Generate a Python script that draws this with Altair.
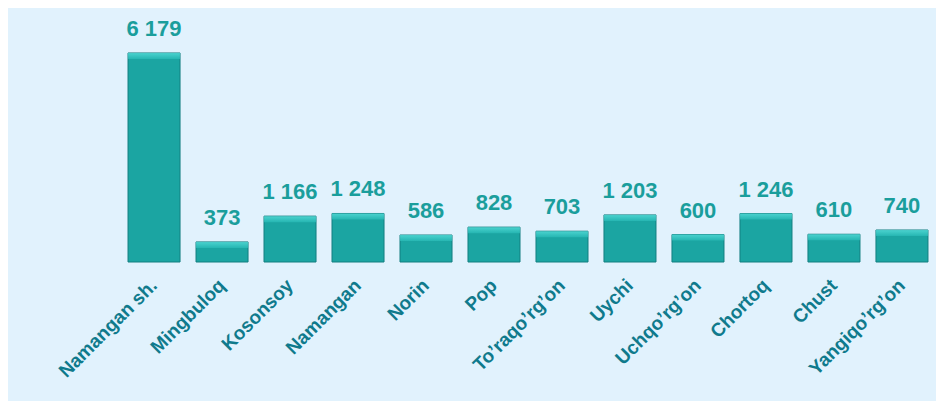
import altair as alt
import pandas as pd

districts = ["Namangan sh.", "Mingbuloq", "Kosonsoy", "Namangan", "Norin", "Pop",
             "To\u2019raqo\u2019rg\u2019on", "Uychi", "Uchqo\u2019rg\u2019on", "Chortoq",
             "Chust", "Yangiqo\u2019rg\u2019on"]
values = [6179, 373, 1166, 1248, 586, 828, 703, 1203, 600, 1246, 610, 740]
labels = ["6 179", "373", "1 166", "1 248", "586", "828", "703", "1 203", "600",
          "1 246", "610", "740"]

df = pd.DataFrame({"district": districts, "value": values, "label": labels})

W, H = 816, 242
xenc = alt.X("district:N", sort=districts, title=None,
             scale=alt.Scale(paddingInner=0.235, paddingOuter=0.118),
             axis=alt.Axis(labelAngle=-45, labelFont="Liberation Sans", labelFontSize=19,
                           labelFontWeight="bold", labelColor="#0f7a8c", labelPadding=20,
                           domain=False, ticks=False, labelAlign="right",
                           labelBaseline="middle"))
yscale = alt.Scale(domain=[-243, 7192], nice=False, zero=False)
yenc = alt.Y("value:Q", scale=yscale, axis=None)

bars = alt.Chart(df).mark_bar(color="#1ba5a2", stroke="#137f80", strokeWidth=1).encode(
    x=xenc, y=yenc, y2=alt.datum(-243))

bevel = alt.Chart(df).mark_tick(
    thickness=6, yOffset=3, bandSize=50,
    color=alt.Gradient(gradient="linear", x1=0, y1=0, x2=0, y2=1,
                       stops=[alt.GradientStop(color="#5fe6e2", offset=0),
                              alt.GradientStop(color="#2bbdb9", offset=1)])
).encode(x=xenc, y=yenc)

text = alt.Chart(df).mark_text(dy=-24, font="Liberation Sans", fontSize=22,
                               fontWeight="bold", color="#1a9e9c").encode(
    x=xenc, y=yenc, text="label:N")

chart = alt.layer(bars, bevel, text).properties(
    width=W, height=H, autosize="none",
    padding={"left": 112, "top": 12, "right": 0, "bottom": 139},
    background="#e1f2fd"
).configure_view(stroke=None)

chart.save("out.html", embed_options={"renderer": "svg", "actions": False})
